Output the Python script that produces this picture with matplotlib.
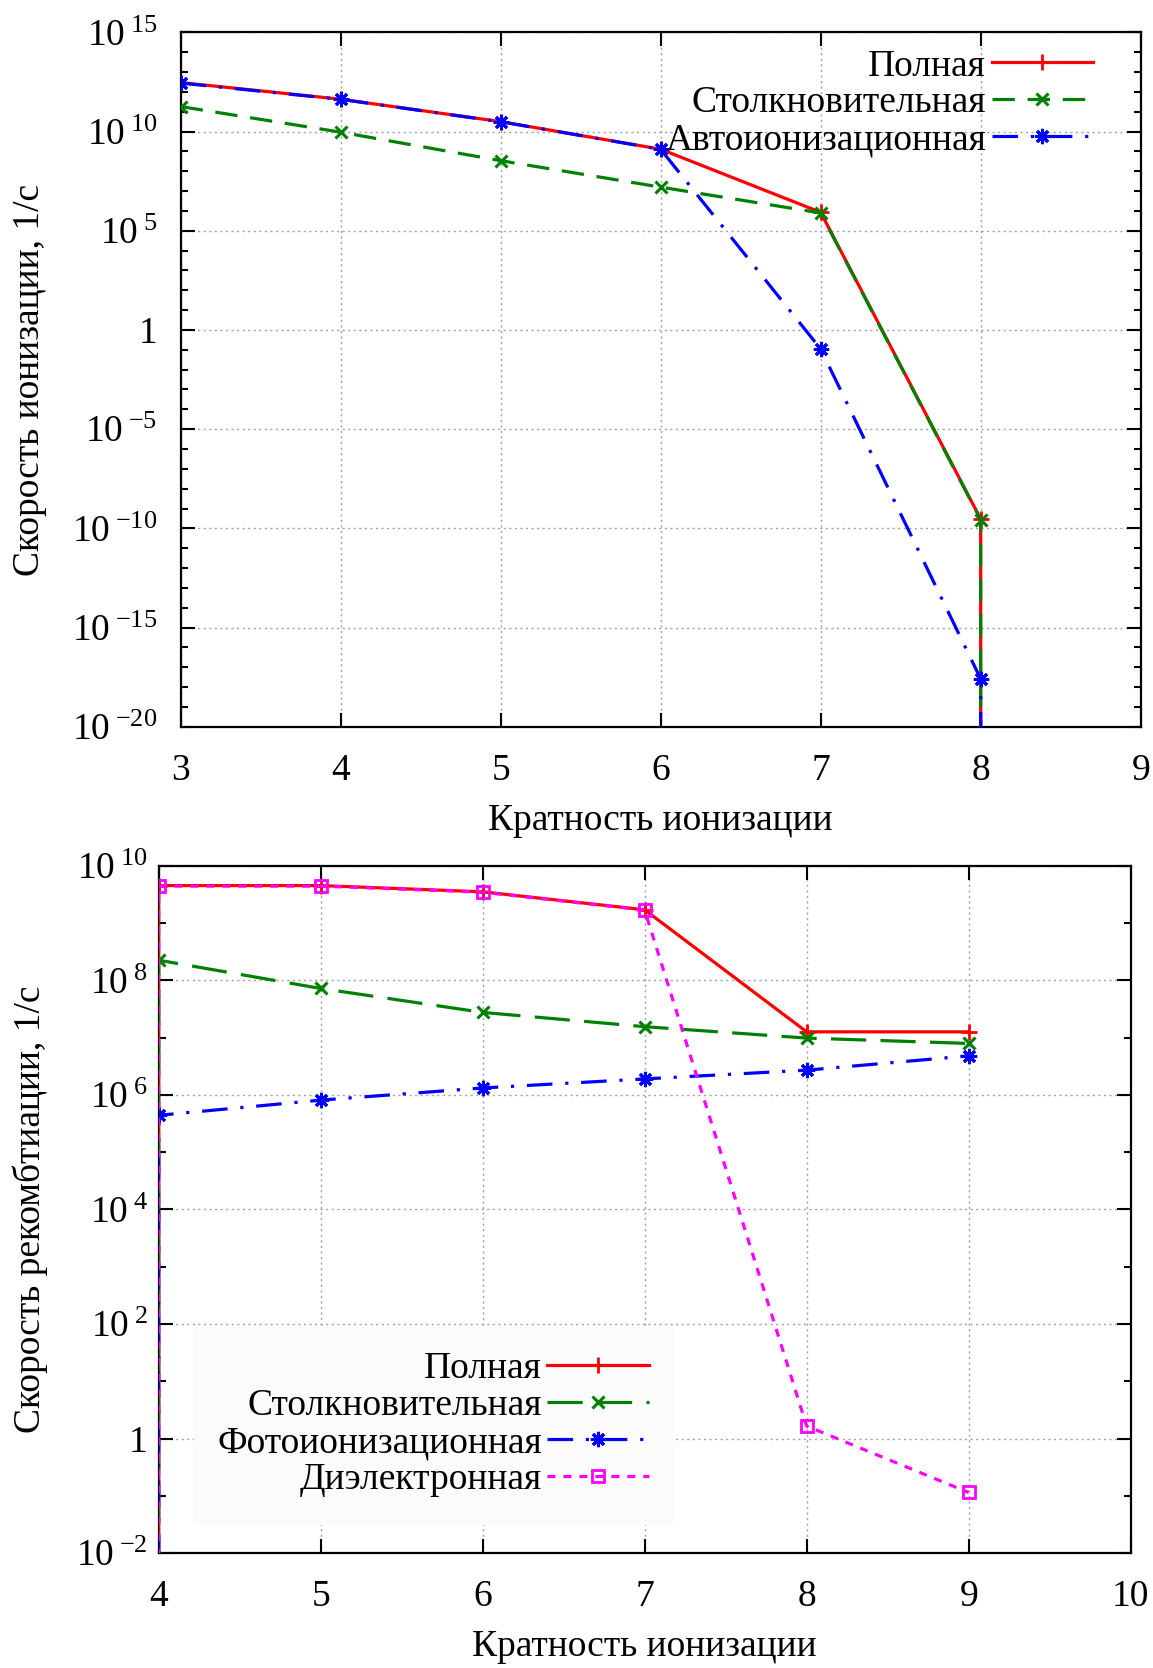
import numpy as np
import matplotlib
matplotlib.use("Agg")
import matplotlib.pyplot as plt
from matplotlib.patches import Rectangle
from matplotlib.ticker import FixedLocator, FuncFormatter, NullLocator, NullFormatter

plt.rcParams['font.family'] = ['Liberation Serif', 'DejaVu Serif']
plt.rcParams['mathtext.fontset'] = 'custom'
plt.rcParams['mathtext.rm'] = 'Liberation Serif'
plt.rcParams['mathtext.it'] = 'Liberation Serif:italic'

# ionization rates (1/s) vs charge state; last point ~0 at x=8
ion_x = [3, 4, 5, 6, 7, 8, 8]
ion_total = [2.95e12, 4.27e11, 3.16e10, 1.29e9, 8.5e5, 2.95e-10, 1e-30]
ion_coll = [1.82e11, 9.3e9, 3.4e8, 1.58e7, 7.9e5, 2.75e-10, 1e-30]
ion_auto = [2.77e12, 4.2e11, 3.12e10, 1.27e9, 0.11, 2.6e-18, 1e-30]

# recombination rates (1/s); first point ~0 at x=4
rec_x = [4, 4, 5, 6, 7, 8, 9]
rec_total = [1e-30, 4.5e9, 4.5e9, 3.5e9, 1.7e9, 1.26e7, 1.26e7]
rec_coll = [1e-30, 2.24e8, 7.2e7, 2.75e7, 1.55e7, 9.8e6, 7.9e6]
rec_photo = [1e-30, 4.4e5, 8.1e5, 1.32e6, 1.9e6, 2.7e6, 4.8e6]
rec_diel = [1e-30, 4.4e9, 4.4e9, 3.45e9, 1.68e9, 1.66, 0.115]

FS = 27


def log_fmt(v, pos):
    e = int(round(np.log10(v)))
    if e == 0:
        return '1'
    return r'$\mathregular{10^{\;{%d}}}$' % e


def style_axes(ax, majors, minors, xlim, ylim, ypad):
    ax.set_yscale('log')
    ax.set_xlim(*xlim)
    ax.set_ylim(*ylim)
    ax.yaxis.set_major_locator(FixedLocator(majors))
    ax.yaxis.set_minor_locator(FixedLocator(minors))
    ax.yaxis.set_major_formatter(FuncFormatter(log_fmt))
    ax.yaxis.set_minor_formatter(NullFormatter())
    ax.xaxis.set_minor_locator(NullLocator())
    ax.tick_params(which='both', direction='in', top=True, right=True,
                   labelsize=FS, width=1.5)
    ax.tick_params(which='major', length=10)
    ax.tick_params(which='minor', length=5)
    ax.tick_params(axis='x', pad=19)
    ax.tick_params(axis='y', pad=ypad)
    ax.grid(True, which='major', color='#a0a0a0', linestyle=(0, (1.5, 2.5)), linewidth=1)
    for s in ax.spines.values():
        s.set_linewidth(1.6)


fig = plt.figure(figsize=(11.53, 16.68), dpi=100)

# --- ionization ---
ax1 = fig.add_axes([0.1567, 0.5643, 0.8326, 0.4163])
ax1.plot(ion_x, ion_total, color='#ff0000', lw=2.3, marker='+', ms=11, mew=2,
         label='Полная', zorder=3)
ax1.plot(ion_x, ion_coll, color='#008000', lw=2.3, dashes=(7, 4), marker='x', ms=9, mew=2.2,
         label='Столкновительная', zorder=3)
ax1.plot(ion_x, ion_auto, color='#0000ff', lw=2.3, dashes=(8, 4, 1, 4), marker=(8, 2, 0), ms=11, mew=2.2,
         label='Автоионизационная', zorder=3)
style_axes(ax1, 10.0 ** np.arange(-20, 16, 5), 10.0 ** np.arange(-20, 16),
           (3, 9), (1e-20, 1e15), 17)
ax1.set_xlabel('Кратность ионизации', fontsize=FS)
ax1.set_ylabel('Скорость ионизации, 1/с', fontsize=FS)
ax1.xaxis.set_label_coords(0.5, -0.136)
ax1.xaxis.label.set_va('center')
ax1.yaxis.set_label_coords(-0.157, 0.5)
ax1.yaxis.label.set_va('center')
ax1.legend(loc='upper right', bbox_to_anchor=(0.9503, 0.976), frameon=False,
           fontsize=FS, markerfirst=False, numpoints=1, handlelength=2.7,
           handletextpad=0.15, labelspacing=0.06, borderpad=0, borderaxespad=0)

# --- recombination ---
ax2 = fig.add_axes([0.1376, 0.0688, 0.8430, 0.4122])
ax2.plot(rec_x, rec_total, color='#ff0000', lw=2.3, marker='+', ms=11, mew=2,
         label='Полная', zorder=3)
ax2.plot(rec_x, rec_coll, color='#008000', lw=2.3, dashes=(11, 4.5), marker='x', ms=9, mew=2.2,
         label='Столкновительная', zorder=3)
ax2.plot(rec_x, rec_photo, color='#0000ff', lw=2.3, dashes=(8, 4, 1, 4), marker=(8, 2, 0), ms=11, mew=2.2,
         label='Фотоионизационная', zorder=3)
ax2.plot(rec_x, rec_diel, color='#ff00ff', lw=2.3, dashes=(2.5, 2.5), marker='s', ms=9, mew=2,
         fillstyle='none', label='Диэлектронная', zorder=3)
style_axes(ax2, 10.0 ** np.arange(-2, 11, 2), 10.0 ** np.arange(-2, 11),
           (4, 10), (1e-2, 1e10), 8)
ax2.set_xlabel('Кратность ионизации', fontsize=FS)
ax2.set_ylabel('Скорость рекомбтиации, 1/с', fontsize=FS)
ax2.xaxis.set_label_coords(0.5, -0.136)
ax2.xaxis.label.set_va('center')
ax2.yaxis.set_label_coords(-0.1324, 0.5)
ax2.yaxis.label.set_va('center')
# light key background
ax2.add_patch(Rectangle((0.0363, 0.041), 0.4937, 0.288, transform=ax2.transAxes,
                        facecolor='#fbfbfb', edgecolor='none', zorder=2))
ax2.legend(loc='upper right', bbox_to_anchor=(0.504, 0.2935), frameon=False,
           fontsize=FS, markerfirst=False, numpoints=1, handlelength=2.7,
           handletextpad=0.15, labelspacing=0.07, borderpad=0, borderaxespad=0)

fig.savefig('out.png', dpi=100)
